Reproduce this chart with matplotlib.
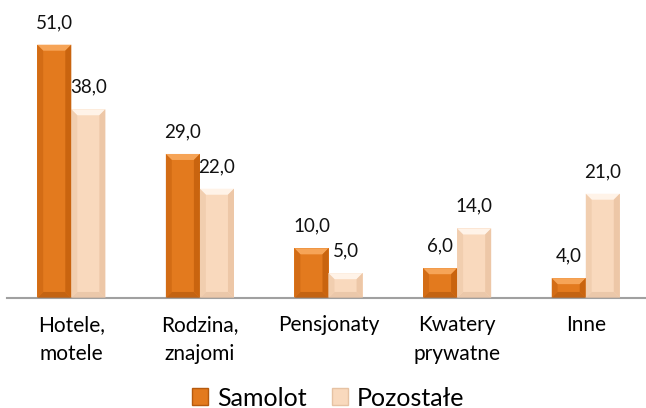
import numpy as np
import matplotlib.pyplot as plt
from matplotlib.patches import Polygon, Patch

plt.rcParams['font.family'] = ['Lato', 'DejaVu Sans']

# Data
categories = ["Hotele,\nmotele", "Rodzina,\nznajomi", "Pensjonaty", "Kwatery\nprywatne", "Inne"]
samolot = [51.0, 29.0, 10.0, 6.0, 4.0]
pozostale = [38.0, 22.0, 5.0, 14.0, 21.0]
series_names = ["Samolot", "Pozostałe"]

# colours: main, top bevel, side bevel, bottom bevel
styles = [
    ("#E37A1E", "#F6A457", "#C9640F", "#B65A0E"),
    ("#F9D9BD", "#FFF3E8", "#EDC7A7", "#E6C2A3"),
]

fig = plt.figure(figsize=(6.46, 4.08), dpi=100)
ax = fig.add_axes([7/646, 110/408, 643/646, 298/408])

x = np.arange(len(categories))
w = 0.265
bx = 6/128.6   # bevel width in data units
by = 6/4.96    # bevel height in data units


def bevel_bar(xc, h, cols):
    main, top, side, bot = cols
    ax.bar(xc, h, w, color=main, edgecolor="none", zorder=2)
    l, r = xc - w/2, xc + w/2
    d = min(by, h/3)
    dx = min(bx, w/4)
    ax.add_patch(Polygon([[l, h], [r, h], [r-dx, h-d], [l+dx, h-d]],
                         closed=True, fc=top, ec="none", zorder=3))
    ax.add_patch(Polygon([[l, 0], [r, 0], [r-dx, d], [l+dx, d]],
                         closed=True, fc=bot, ec="none", zorder=3, alpha=0.7))
    ax.add_patch(Polygon([[l, 0], [l+dx, d], [l+dx, h-d], [l, h]],
                         closed=True, fc=side, ec="none", zorder=3, alpha=0.6))
    ax.add_patch(Polygon([[r, 0], [r-dx, d], [r-dx, h-d], [r, h]],
                         closed=True, fc=side, ec="none", zorder=3))


for vals, off, cols in [(samolot, -w/2, styles[0]), (pozostale, w/2, styles[1])]:
    for xi, v in zip(x, vals):
        bevel_bar(xi + off, v, cols)
        ax.annotate(f"{v:.1f}".replace(".", ","), (xi + off, v),
                    xytext=(0, 16), textcoords="offset points",
                    ha="center", va="center", fontsize=13.5, color="#111111")

ax.set_xlim(-0.5, 4.5)
ax.set_ylim(0, 60)
ax.set_yticks([])
ax.set_xticks(x)
ax.set_xticklabels(categories, fontsize=15, linespacing=1.6)
ax.tick_params(axis="x", length=0, pad=12)
for s in ["top", "right", "left"]:
    ax.spines[s].set_visible(False)
ax.spines["bottom"].set_color("#A0A0A0")
ax.spines["bottom"].set_linewidth(1.5)

handles = [Patch(facecolor=styles[0][0], edgecolor=styles[0][3]),
           Patch(facecolor=styles[1][0], edgecolor=styles[1][3])]
fig.legend(handles, series_names, loc="center", bbox_to_anchor=(328/646, 10/408),
           ncol=2, frameon=False, fontsize=18, handlelength=0.65,
           handleheight=0.65, handletextpad=0.35, columnspacing=1.0)

fig.savefig("out.png", dpi=100)
